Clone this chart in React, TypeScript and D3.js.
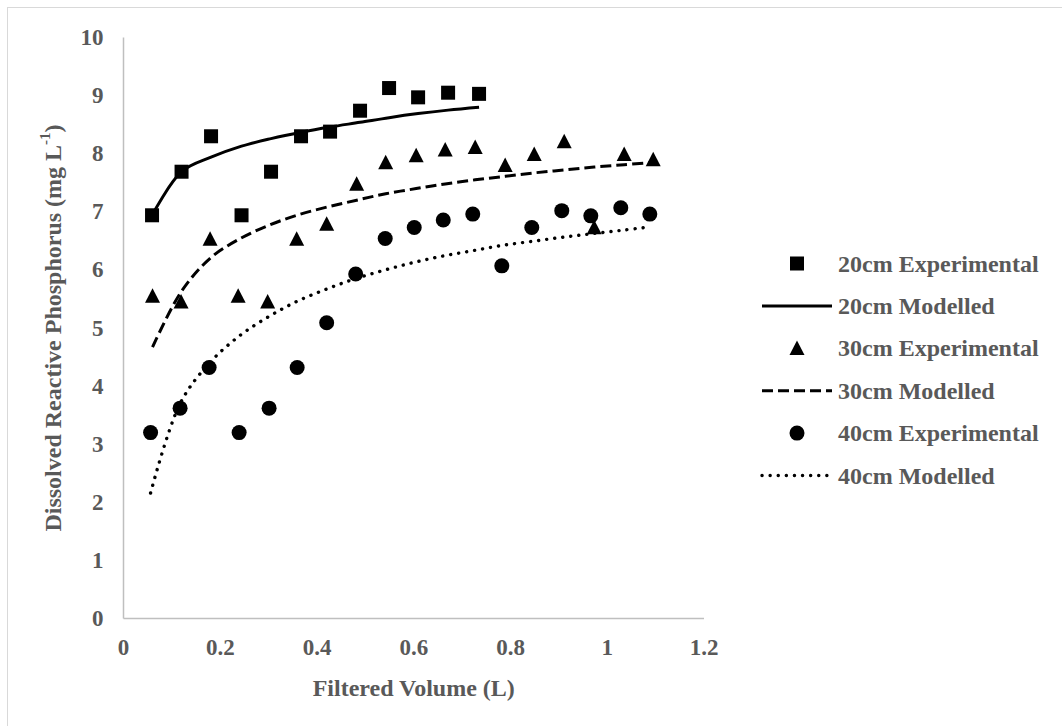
import React from "react";
import * as d3 from "d3";

const xTicks = [0, 0.2, 0.4, 0.6, 0.8, 1, 1.2];
const yTicks = [0, 1, 2, 3, 4, 5, 6, 7, 8, 9, 10];

const x20 = [0.059, 0.12, 0.181, 0.244, 0.305, 0.367, 0.427, 0.489, 0.549, 0.609, 0.671, 0.735];
const exp20 = [6.94, 7.69, 8.3, 6.94, 7.69, 8.3, 8.38, 8.74, 9.13, 8.97, 9.05, 9.03];
const mod20 = [6.94, 7.69, 7.94, 8.13, 8.26, 8.37, 8.46, 8.54, 8.62, 8.69, 8.75, 8.8];

const x30 = [0.06, 0.119, 0.179, 0.237, 0.298, 0.358, 0.42, 0.482, 0.542, 0.605, 0.665, 0.727, 0.789, 0.849, 0.911, 0.973, 1.035, 1.095];
const exp30 = [5.55, 5.45, 6.53, 5.55, 5.45, 6.53, 6.79, 7.48, 7.85, 7.97, 8.07, 8.11, 7.8, 7.99, 8.21, 6.73, 7.99, 7.9];
const mod30 = [4.67, 5.62, 6.2, 6.52, 6.76, 6.94, 7.08, 7.2, 7.31, 7.4, 7.48, 7.55, 7.61, 7.67, 7.72, 7.77, 7.81, 7.85];

const x40 = [0.056, 0.117, 0.177, 0.239, 0.301, 0.359, 0.42, 0.48, 0.541, 0.601, 0.661, 0.722, 0.782, 0.844, 0.906, 0.966, 1.028, 1.088];
const exp40 = [3.2, 3.62, 4.32, 3.2, 3.62, 4.32, 5.09, 5.93, 6.54, 6.73, 6.86, 6.96, 6.07, 6.73, 7.02, 6.93, 7.07, 6.96];
const mod40 = [2.16, 3.7, 4.39, 4.86, 5.2, 5.46, 5.67, 5.85, 6.0, 6.13, 6.24, 6.33, 6.42, 6.49, 6.56, 6.62, 6.68, 6.74];

const legendLabels = [
  "20cm Experimental",
  "20cm Modelled",
  "30cm Experimental",
  "30cm Modelled",
  "40cm Experimental",
  "40cm Modelled",
];

const FONT = "'Liberation Serif', 'Times New Roman', serif";
const TEXT = "#595959";
const AXIS = "#bfbfbf";

const W = 1062;
const H = 726;

const xScale = d3.scaleLinear().domain([0, 1.2]).range([123.5, 704]);
const yScale = d3.scaleLinear().domain([0, 10]).range([618.5, 37.5]);

const lineGen = d3
  .line<[number, number]>()
  .x((d) => xScale(d[0]))
  .y((d) => yScale(d[1]))
  .curve(d3.curveCatmullRom.alpha(0.5));

const zip = (xs: number[], ys: number[]): [number, number][] => xs.map((x, i) => [x, ys[i]]);

const SQ = 14;
const CR = 7.5;
const TW = 15;
const TH = 13.5;

function Square({ cx, cy }: { cx: number; cy: number }) {
  return <rect x={cx - SQ / 2} y={cy - SQ / 2} width={SQ} height={SQ} fill="#000" />;
}
function Tri({ cx, cy }: { cx: number; cy: number }) {
  const p = `${cx},${cy - TH / 2 - 1} ${cx + TW / 2},${cy + TH / 2} ${cx - TW / 2},${cy + TH / 2}`;
  return <polygon points={p} fill="#000" />;
}
function Circ({ cx, cy }: { cx: number; cy: number }) {
  return <circle cx={cx} cy={cy} r={CR} fill="#000" />;
}

const DASH = "11,5";
const DOT = "0.1,8";

const lineStyles = [
  { dash: undefined as string | undefined, cap: "butt" as const, w: 3 },
  { dash: DASH, cap: "butt" as const, w: 3 },
  { dash: DOT, cap: "round" as const, w: 3.4 },
];

export default function App() {
  const legendX = 838;
  const legendY0 = 263.5;
  const legendDY = 42.4;
  const sampleX1 = 762;
  const sampleX2 = 832;
  const markerX = 797;

  return (
    <svg
      width={W}
      height={H}
      style={{ position: "absolute", left: 0, top: 0, display: "block", background: "#fff" }}
    >
      <rect x={0} y={0} width={W} height={H} fill="#fff" />
      <rect x={7.5} y={7.5} width={1200} height={900} fill="none" stroke="#d9d9d9" strokeWidth={1} />

      {/* axes */}
      <line x1={xScale(0)} x2={xScale(0)} y1={yScale(10)} y2={yScale(0)} stroke={AXIS} strokeWidth={1.5} />
      <line x1={xScale(0)} x2={xScale(1.2)} y1={yScale(0)} y2={yScale(0)} stroke={AXIS} strokeWidth={1.5} />

      {yTicks.map((t) => (
        <text
          key={"y" + t}
          x={103.5}
          y={yScale(t)}
          textAnchor="end"
          dominantBaseline="central"
          fontFamily={FONT}
          fontWeight="bold"
          fontSize={23}
          fill={TEXT}
        >
          {t}
        </text>
      ))}
      {xTicks.map((t) => (
        <text
          key={"x" + t}
          x={xScale(t)}
          y={647}
          textAnchor="middle"
          dominantBaseline="central"
          fontFamily={FONT}
          fontWeight="bold"
          fontSize={23}
          fill={TEXT}
        >
          {t}
        </text>
      ))}

      <text
        x={(xScale(0) + xScale(1.2)) / 2}
        y={688}
        textAnchor="middle"
        dominantBaseline="central"
        fontFamily={FONT}
        fontWeight="bold"
        fontSize={24}
        fill={TEXT}
      >
        Filtered Volume (L)
      </text>
      <text
        transform={`translate(53, ${(yScale(0) + yScale(10)) / 2}) rotate(-90)`}
        textAnchor="middle"
        dominantBaseline="central"
        fontFamily={FONT}
        fontWeight="bold"
        fontSize={24}
        fill={TEXT}
      >
        Dissolved Reactive Phosphorus (mg L
        <tspan dy={-8} fontSize={15}>-1</tspan>
        <tspan dy={8}>)</tspan>
      </text>

      {/* series */}
      {x20.map((x, i) => (
        <Square key={"s" + i} cx={xScale(x)} cy={yScale(exp20[i])} />
      ))}
      <path d={lineGen(zip(x20, mod20)) || ""} fill="none" stroke="#000" strokeWidth={3} />
      {x30.map((x, i) => (
        <Tri key={"t" + i} cx={xScale(x)} cy={yScale(exp30[i])} />
      ))}
      <path d={lineGen(zip(x30, mod30)) || ""} fill="none" stroke="#000" strokeWidth={3} strokeDasharray={DASH} />
      {x40.map((x, i) => (
        <Circ key={"c" + i} cx={xScale(x)} cy={yScale(exp40[i])} />
      ))}
      <path
        d={lineGen(zip(x40, mod40)) || ""}
        fill="none"
        stroke="#000"
        strokeWidth={3.4}
        strokeDasharray={DOT}
        strokeLinecap="round"
      />

      {/* legend */}
      {legendLabels.map((lab, i) => {
        const cy = legendY0 + i * legendDY;
        let sample: React.ReactNode = null;
        if (i === 0) sample = <Square cx={markerX} cy={cy} />;
        else if (i === 2) sample = <Tri cx={markerX} cy={cy} />;
        else if (i === 4) sample = <Circ cx={markerX} cy={cy} />;
        else {
          const st = lineStyles[(i - 1) / 2];
          sample = (
            <line
              x1={sampleX1}
              x2={sampleX2}
              y1={cy}
              y2={cy}
              stroke="#000"
              strokeWidth={st.w}
              strokeDasharray={st.dash}
              strokeLinecap={st.cap}
            />
          );
        }
        return (
          <g key={"l" + i}>
            {sample}
            <text
              x={legendX}
              y={cy}
              dominantBaseline="central"
              fontFamily={FONT}
              fontWeight="bold"
              fontSize={24}
              fill={TEXT}
            >
              {lab}
            </text>
          </g>
        );
      })}
    </svg>
  );
}
